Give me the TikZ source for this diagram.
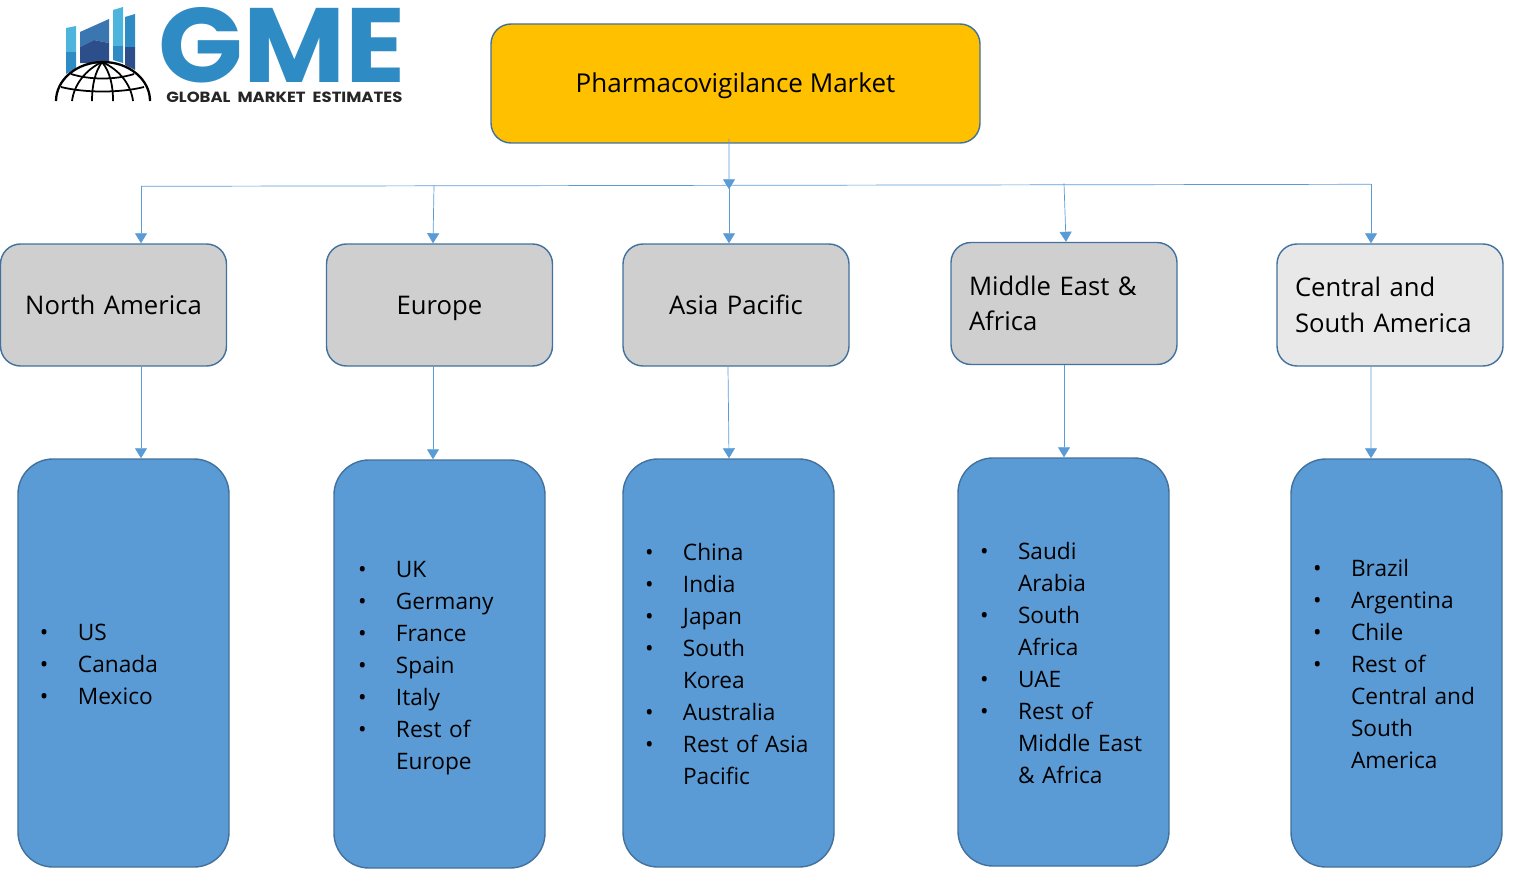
\documentclass[tikz,border=0pt]{standalone}
\usepackage{fontspec}
\usepackage{graphicx}
\setmainfont{Open Sans}
\newfontfamily\logofont{Poppins}
\usetikzlibrary{shapes.geometric, arrows.meta, positioning, calc}
\definecolor{edgeblue}{HTML}{41719C}
\definecolor{wireblue}{HTML}{5B9BD5}
\definecolor{rootgold}{HTML}{FFC000}
\definecolor{gmeblue}{HTML}{2E8BC4}
\definecolor{gmelight}{HTML}{4DB4DE}
\definecolor{gmemid}{HTML}{3A76B0}
\definecolor{gmedark}{HTML}{2C4F8C}
\tikzstyle{oneline} = [text height=10.5pt, text depth=0pt]
\tikzstyle{rootbox} = [draw=edgeblue, thick, rectangle, rounded corners=0.4cm, fill=rootgold, minimum width=9.78cm, minimum height=2.38cm, font=\fontsize{14.8}{20}\selectfont]
\tikzstyle{regionbox} = [draw=edgeblue, thick, rectangle, rounded corners=0.4cm, fill=black!19, minimum width=4.52cm, minimum height=2.44cm, text width=3.8cm, inner xsep=0.36cm, align=center, font=\fontsize{14.6}{20.2}\selectfont]
\tikzstyle{listbox} = [draw=edgeblue, thick, rectangle, rounded corners=0.7cm, fill=wireblue, minimum width=4.22cm, minimum height=8.16cm, text width=3.34cm, inner xsep=0.44cm, align=left, font=\fontsize{12.9}{18.2}\selectfont]
\tikzstyle{arrow} = [draw=wireblue, thin, -{Triangle[width=0.24cm,length=0.2cm]}]
\tikzstyle{wire} = [draw=wireblue, thin]
\newcommand{\liststrut}{\rule[-3.9pt]{0pt}{18.2pt}}
\newcommand{\li}[1]{\mbox{\liststrut\makebox[0.76cm][l]{\textbullet}#1}}
\newcommand{\lic}[1]{\mbox{\liststrut\hspace*{0.76cm}#1}}

\begin{document}
\begin{tikzpicture}[node distance=1.0cm]
    \useasboundingbox (0,0) rectangle (30.56,-17.38);

    % Logo
    \begin{scope}[x=0.02cm,y=-0.02cm]
        \fill [gmelight] (66,28) -- (76,26) -- (76,52) -- (66,52) -- cycle;
        \fill [gmeblue] (66,52) -- (76,52) -- (76,68) -- (66,74) -- cycle;
        \fill [gmemid] (80,32) -- (109,19) -- (109,43) -- (94,40) -- (80,47) -- cycle;
        \fill [gmedark] (80,47) -- (94,40) -- (109,43) -- (109,63) -- (80,63) -- cycle;
        \fill [gmelight] (113,10) -- (123,7) -- (123,46) -- (113,46) -- cycle;
        \fill [gmeblue] (113,46) -- (123,46) -- (123,63) -- (113,60) -- cycle;
        \fill [gmeblue] (125,17) -- (135,14) -- (135,47) -- (125,47) -- cycle;
        \fill [gmedark] (125,47) -- (135,47) -- (135,70) -- (125,65) -- cycle;
        \draw [black, line width=1.3pt] (56,101) arc (180:360:47 and 39);
        \draw [black, line width=1pt] (71,74) .. controls (90,80) and (115,80) .. (134,74);
        \draw [black, line width=1pt] (61,87) .. controls (85,93) and (120,93) .. (144,87);
        \draw [black, line width=1pt] (72,101) .. controls (74,85) and (85,70) .. (102,62);
        \draw [black, line width=1pt] (133,101) .. controls (131,85) and (120,70) .. (102,62);
        \draw [black, line width=1pt] (92,101) .. controls (92,85) and (95,72) .. (102,62);
        \draw [black, line width=1pt] (113,101) .. controls (113,85) and (110,72) .. (102,62);
        \node (gme) [anchor=north west, inner sep=0pt, text=gmeblue] at (158,7) {\resizebox{4.94cm}{1.5cm}{\logofont\bfseries GME}};
        \node (gmetag) [anchor=north west, inner sep=0pt, text=black!85] at (166,91.5) {\resizebox{4.72cm}{0.21cm}{\logofont\bfseries GLOBAL\ \ MARKET\ \ ESTIMATES}};
    \end{scope}

    % Market
    \node (root) [rootbox, oneline] at (14.71,-1.67) {Pharmacovigilance Market};

    % Regions
    \node (na) [regionbox, oneline, below of=root, xshift=-12.44cm, yshift=-3.43cm] {North America};
    \node (eu) [regionbox, oneline, right of=na, xshift=5.52cm] {Europe};
    \node (ap) [regionbox, oneline, right of=eu, xshift=4.93cm] {Asia Pacific};
    \node (me) [regionbox, right of=ap, xshift=5.56cm, yshift=0.03cm, align=left] {Middle East \&\\Africa};
    \node (csa) [regionbox, fill=black!9, right of=me, xshift=5.52cm, yshift=-0.03cm, align=left] {Central and\\South America};

    % Countries
    \node (nalist) [listbox, below of=na, xshift=0.2cm, yshift=-6.16cm] {\li{US}\\\li{Canada}\\\li{Mexico}};
    \node (eulist) [listbox, text width=3.26cm, inner xsep=0.48cm, below of=eu, yshift=-6.18cm] {\li{UK}\\\li{Germany}\\\li{France}\\\li{Spain}\\\li{Italy}\\\li{Rest of}\\\lic{Europe}};
    \node (aplist) [listbox, below of=ap, xshift=-0.15cm, yshift=-6.16cm] {\li{China}\\\li{India}\\\li{Japan}\\\li{South}\\\lic{Korea}\\\li{Australia}\\\li{Rest of Asia}\\\lic{Pacific}};
    \node (melist) [listbox, below of=me, xshift=-0.01cm, yshift=-6.17cm] {\li{Saudi}\\\lic{Arabia}\\\li{South}\\\lic{Africa}\\\li{UAE}\\\li{Rest of}\\\lic{Middle East}\\\lic{\& Africa}};
    \node (csalist) [listbox, below of=csa, xshift=0.13cm, yshift=-6.16cm] {\li{Brazil}\\\li{Argentina}\\\li{Chile}\\\li{Rest of}\\\lic{Central and}\\\lic{South}\\\lic{America}};

    % Bus
    \coordinate (busna) at ($(na.north)+(0.55,1.14)$);
    \coordinate (buseu) at ($(eu.north)+(-0.11,1.16)$);
    \coordinate (busap) at ($(ap.north)+(-0.14,1.16)$);
    \coordinate (busme) at ($(me.north)+(0,1.17)$);
    \coordinate (buscsa) at ($(csa.north)+(-0.38,1.18)$);

    % Connections
    \draw [wire] (busna) -- (buscsa);
    \draw [arrow] ($(root.south)+(-0.13,0.1)$) -- ($(busap)+(0,-0.08)$);
    \draw [arrow] (busna) -- ($(na.north)+(0.55,0)$);
    \draw [arrow] (buseu) -- ($(eu.north)+(-0.13,0)$);
    \draw [arrow] (busap) -- ($(ap.north)+(-0.14,0)$);
    \draw [arrow] (busme) -- ($(me.north)+(0.04,0)$);
    \draw [arrow] (buscsa) -- ($(csa.north)+(-0.38,0)$);
    \draw [arrow] ($(na.south)+(0.55,0)$) -- ($(nalist.north)+(0.35,0)$);
    \draw [arrow] ($(eu.south)+(-0.13,0)$) -- ($(eulist.north)+(-0.13,0)$);
    \draw [arrow] ($(ap.south)+(-0.16,0)$) -- ($(aplist.north)+(0.01,0)$);
    \draw [arrow] ($(me.south)+(0,0)$) -- ($(melist.north)+(0.01,0)$);
    \draw [arrow] ($(csa.south)+(-0.38,0)$) -- ($(csalist.north)+(-0.51,0)$);
\end{tikzpicture}
\end{document}
